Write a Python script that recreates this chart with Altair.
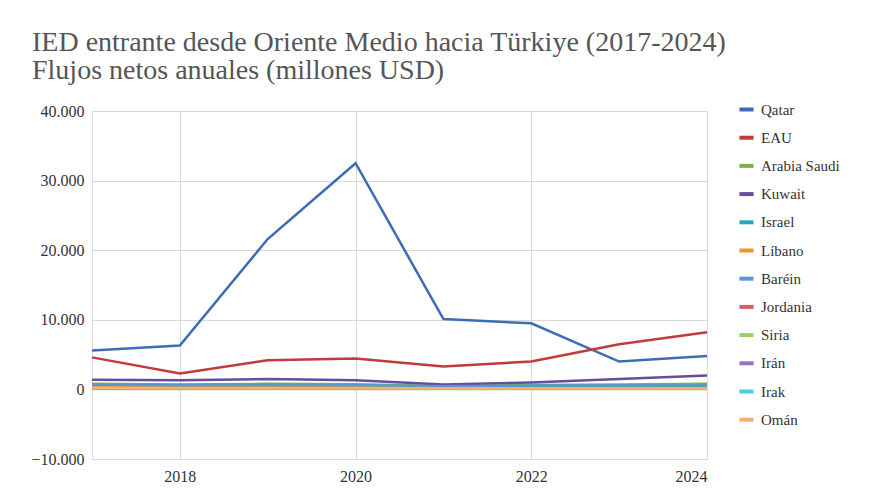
import altair as alt
import pandas as pd

years = [2017, 2018, 2019, 2020, 2021, 2022, 2023, 2024]
countries = ["Qatar", "EAU", "Arabia Saudi", "Kuwait", "Israel", "Líbano",
             "Baréin", "Jordania", "Siria", "Irán", "Irak", "Omán"]
colors = ["#3c6db4", "#c23b3b", "#7db544", "#6a4a9c", "#26a9bf", "#ee9431",
          "#5b97cf", "#d55e5e", "#9fcf63", "#9274c9", "#4ccbd9", "#f3b16a"]

qatar = [5600, 6300, 21600, 32500, 10100, 9500, 4000, 4800]
eau = [4600, 2300, 4200, 4450, 3300, 4000, 6500, 8200]
arabia = [800, 700, 800, 750, 500, 650, 700, 800]
kuwait = [1400, 1300, 1500, 1300, 700, 1000, 1500, 2000]
israel = [500, 450, 500, 450, 350, 400, 450, 500]
libano = [300, 250, 250, 250, 200, 200, 200, 200]
barein = [700, 650, 700, 650, 450, 550, 600, 650]
jordania = [150, 150, 150, 150, 100, 100, 100, 100]
siria = [50, 50, 50, 50, 50, 50, 50, 50]
iran = [200, 150, 150, 150, 100, 150, 150, 150]
irak = [100, 100, 100, 100, 100, 100, 100, 100]
oman = [250, 200, 200, 200, 150, 150, 150, 150]

series = [qatar, eau, arabia, kuwait, israel, libano, barein, jordania,
          siria, iran, irak, oman]

rows = []
for c, vals in zip(countries, series):
    for y, v in zip(years, vals):
        rows.append({"year": y, "country": c, "value": v})
df = pd.DataFrame(rows)

FONT = "Liberation Serif"

chart = alt.Chart(df).mark_line(strokeWidth=2.5).encode(
    x=alt.X("year:Q",
            scale=alt.Scale(domain=[2017, 2024], nice=False, zero=False),
            axis=alt.Axis(values=[2018, 2020, 2022, 2024], format="d",
                          title=None, grid=True, domain=False, ticks=False,
                          labelPadding=9, labelFontSize=16, labelFont=FONT,
                          labelColor="#333333", gridColor="#d9d9d9")),
    y=alt.Y("value:Q",
            scale=alt.Scale(domain=[-10000, 40000], nice=False),
            axis=alt.Axis(values=[-10000, 0, 10000, 20000, 30000, 40000],
                          labelExpr="replace(format(datum.value, ','), ',', '.')",
                          title=None, grid=True, domain=False, ticks=False,
                          labelPadding=8, labelFontSize=16, labelFont=FONT,
                          labelColor="#333333", gridColor="#d9d9d9")),
    color=alt.Color("country:N",
                    scale=alt.Scale(domain=countries, range=colors),
                    sort=countries,
                    legend=alt.Legend(title=None, orient="none",
                                      legendX=645, legendY=-11,
                                      symbolType="stroke", symbolStrokeWidth=4,
                                      symbolSize=200,
                                      labelFont=FONT, labelFontSize=15,
                                      labelColor="#333333",
                                      rowPadding=10.2, labelOffset=5)),
    order=alt.Order("year:Q"),
).properties(
    width=615,
    height=348,
    title=alt.TitleParams(
        text=["IED entrante desde Oriente Medio hacia Türkiye (2017-2024)",
              "Flujos netos anuales (millones USD)"],
        anchor="start", frame="group", dx=-60, offset=15,
        font=FONT, fontSize=28, fontWeight="normal", color="#555555",
        lineHeight=28,
    ),
    padding={"left": 84, "top": 103, "right": 159, "bottom": 31},
    autosize=alt.AutoSizeParams(type="none"),
).configure_view(stroke=None).configure(background="#ffffff")

chart.save("out.html", embed_options={"renderer": "svg", "actions": False})
